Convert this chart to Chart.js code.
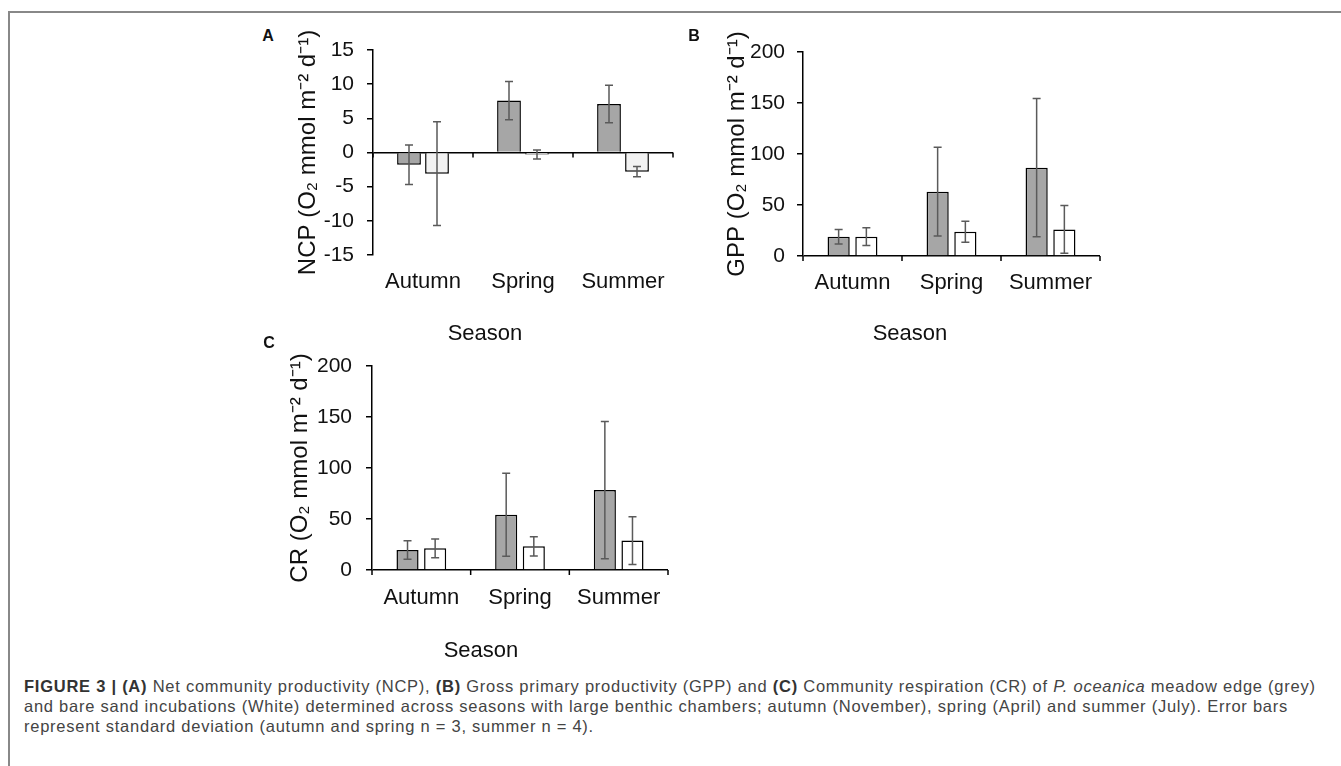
<!DOCTYPE html>
<html>
<head>
<meta charset="utf-8">
<script src="https://cdn.jsdelivr.net/npm/chart.js@4.4.0/dist/chart.umd.min.js"></script>
<style>
  body { margin: 0; background: #fff; font-family: "Liberation Sans", Arial, sans-serif; }
  #page { position: relative; width: 1341px; height: 766px; overflow: hidden; }
  #frame { position: absolute; left: 8px; top: 11px; width: 1400px; height: 800px;
           border-left: 2px solid #888; border-top: 2px solid #888; }
  canvas { position: absolute; }
  .panel { position: absolute; font-weight: bold; font-size: 16px; color: #111;
           transform: translate(-50%, -50%); line-height: 1; }
  .season { position: absolute; font-size: 22px; color: #111; line-height: 1;
            transform: translate(-50%, -50%); }
  #caption { position: absolute; left: 24px; top: 676px; font-size: 16.5px; line-height: 20px;
             letter-spacing: 0.75px; color: #444; white-space: nowrap; }
  #caption b { color: #333; }
</style>
</head>
<body>
<div id="page">
  <div id="frame"></div>

  <canvas id="chartA" width="420" height="335" style="left:280px;top:20px"></canvas>
  <canvas id="chartB" width="415" height="335" style="left:710px;top:20px"></canvas>
  <canvas id="chartC" width="422" height="330" style="left:273px;top:336px"></canvas>

  <div class="panel" style="left:268px;top:36px">A</div>
  <div class="panel" style="left:694px;top:36px">B</div>
  <div class="panel" style="left:269px;top:343px">C</div>

  <div class="season" style="left:485px;top:333px">Season</div>
  <div class="season" style="left:910px;top:333px">Season</div>
  <div class="season" style="left:481px;top:650px">Season</div>

  <div id="caption"><b>FIGURE 3 | (A)</b> Net community productivity (NCP), <b>(B)</b> Gross primary productivity (GPP) and <b>(C)</b> Community respiration (CR) of <i>P. oceanica</i> meadow edge (grey)<br>and bare sand incubations (White) determined across seasons with large benthic chambers; autumn (November), spring (April) and summer (July). Error bars<br>represent standard deviation (autumn and spring n = 3, summer n = 4).</div>
</div>

<script>
// categories
var seasons = ["Autumn", "Spring", "Summer"];

// A - NCP (meadow edge = grey, bare sand = white)
var ncpEdge = [-1.8, 7.6, 7.1];
var ncpEdgeSd = [2.9, 2.8, 2.75];
var ncpSand = [-3.1, -0.3, -2.8];
var ncpSandSd = [7.6, 0.65, 0.75];

// B - GPP
var gppEdge = [18.9, 63, 86.6];
var gppEdgeSd = [7.2, 43.5, 67.8];
var gppSand = [18.9, 23.8, 26.1];
var gppSandSd = [8.7, 10.3, 23.5];

// C - CR
var crEdge = [19.6, 54.2, 78.4];
var crEdgeSd = [9, 40.7, 67.3];
var crSand = [21.3, 23.2, 28.8];
var crSandSd = [9.2, 9.5, 23.5];

var ncpTicks = [-15, 15, 5];
var prodTicks = [0, 200, 50];

var FONT = "'Liberation Sans', Arial, sans-serif";
var INK = "#111";

// error bars from dataset.sd, drawn with the y scale
var errorBars = {
  id: "errorBars",
  afterDatasetsDraw: function (chart) {
    var ctx = chart.ctx;
    var y = chart.scales.y;
    ctx.save();
    ctx.strokeStyle = "#5a5a5a";
    ctx.lineWidth = 1.5;
    chart.data.datasets.forEach(function (ds, i) {
      var meta = chart.getDatasetMeta(i);
      meta.data.forEach(function (bar, j) {
        var top = y.getPixelForValue(ds.data[j] + ds.sd[j]);
        var bot = y.getPixelForValue(ds.data[j] - ds.sd[j]);
        ctx.beginPath();
        ctx.moveTo(bar.x, top); ctx.lineTo(bar.x, bot);
        ctx.moveTo(bar.x - 4, top); ctx.lineTo(bar.x + 4, top);
        ctx.moveTo(bar.x - 4, bot); ctx.lineTo(bar.x + 4, bot);
        ctx.stroke();
      });
    });
    ctx.restore();
  }
};

// small tick marks between categories, hanging from the zero line
var zeroTicks = {
  id: "zeroTicks",
  afterDatasetsDraw: function (chart) {
    var ctx = chart.ctx;
    var x = chart.scales.x;
    var y0 = chart.scales.y.getPixelForValue(0);
    var n = chart.data.labels.length;
    ctx.save();
    ctx.strokeStyle = "#000";
    ctx.lineWidth = 1.5;
    for (var i = 0; i <= n; i++) {
      var px = x.left + i * (x.width / n);
      ctx.beginPath();
      ctx.moveTo(px, y0);
      ctx.lineTo(px, y0 + 5);
      ctx.stroke();
    }
    ctx.restore();
  }
};

function makeChart(id, p) {
  var ctx = document.getElementById(id).getContext("2d");
  return new Chart(ctx, {
    type: "bar",
    data: {
      labels: seasons,
      datasets: [
        {
          label: "Meadow edge",
          data: p.edge, sd: p.edgeSd,
          backgroundColor: "#a6a6a6", borderColor: "#000", borderWidth: 1.5,
          barPercentage: p.bar, categoryPercentage: 0.56
        },
        {
          label: "Bare sand",
          data: p.sand, sd: p.sandSd,
          backgroundColor: p.white, borderColor: "#000", borderWidth: 1.5,
          barPercentage: p.bar, categoryPercentage: 0.56
        }
      ]
    },
    options: {
      responsive: false,
      animation: false,
      devicePixelRatio: 1,
      layout: { padding: p.pad },
      plugins: { legend: { display: false }, tooltip: { enabled: false } },
      scales: {
        x: {
          grid: { display: false, drawTicks: false },
          border: { display: false },
          ticks: { color: INK, padding: p.xPad, font: { family: FONT, size: 22 } },
          afterFit: function (s) { s.height = p.xH; }
        },
        y: {
          min: p.ticks[0], max: p.ticks[1],
          ticks: { stepSize: p.ticks[2], color: INK, padding: p.yPad, font: { family: FONT, size: 21 } },
          grid: {
            color: function (c) { return c.tick && c.tick.value === 0 ? "#000" : "rgba(0,0,0,0)"; },
            lineWidth: 1.5, tickColor: "#000", tickLength: 6
          },
          border: { display: true, color: "#000", width: 1.5 },
          title: {
            display: true, text: p.title, color: INK, padding: { top: 4, bottom: 0 },
            font: { family: FONT, size: 24 }
          },
          afterFit: function (s) { s.width = p.yW; }
        }
      }
    },
    plugins: [zeroTicks, errorBars]
  });
}

makeChart("chartA", {
  edge: ncpEdge, edgeSd: ncpEdgeSd, sand: ncpSand, sandSd: ncpSandSd,
  white: "#f2f2f2", bar: 0.85, ticks: ncpTicks,
  title: "NCP (O\u2082 mmol m\u207B\u00B2 d\u207B\u00B9)",
  pad: { left: 10, top: 30, right: 27, bottom: 0 }, yW: 83, xH: 100, xPad: 14, yPad: 13
});

makeChart("chartB", {
  edge: gppEdge, edgeSd: gppEdgeSd, sand: gppSand, sandSd: gppSandSd,
  white: "#ffffff", bar: 0.8, ticks: prodTicks,
  title: "GPP (O\u2082 mmol m\u207B\u00B2 d\u207B\u00B9)",
  pad: { left: 9, top: 32, right: 25, bottom: 0 }, yW: 84, xH: 99, xPad: 14, yPad: 12
});

makeChart("chartC", {
  edge: crEdge, edgeSd: crEdgeSd, sand: crSand, sandSd: crSandSd,
  white: "#ffffff", bar: 0.8, ticks: prodTicks,
  title: "CR (O\u2082 mmol m\u207B\u00B2 d\u207B\u00B9)",
  pad: { left: 9, top: 30, right: 27, bottom: 0 }, yW: 90, xH: 96, xPad: 15, yPad: 14
});
</script>
</body>
</html>
